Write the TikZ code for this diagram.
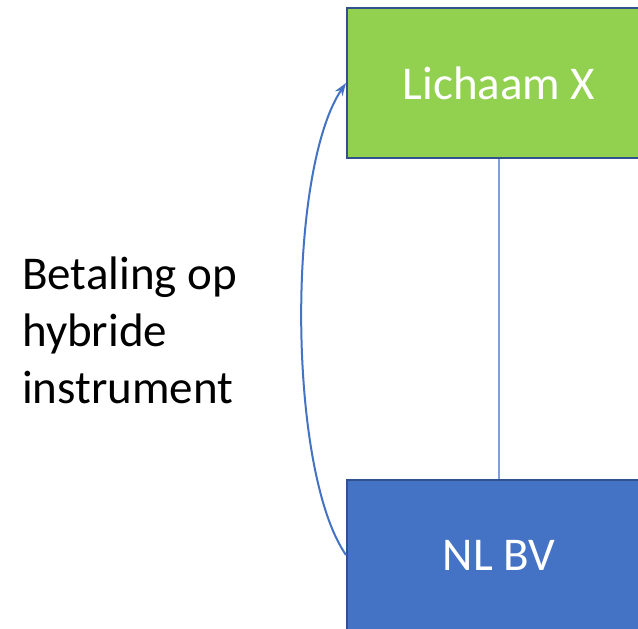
\documentclass[tikz,border=0pt]{standalone}
\usepackage{fontspec}
\setmainfont{Carlito}
\usepackage{tikz}
\usetikzlibrary{arrows.meta, positioning}

\definecolor{boxgreen}{HTML}{92D050}
\definecolor{boxblue}{HTML}{4472C4}
\definecolor{boxedge}{HTML}{2F528F}
\definecolor{linkblue}{HTML}{7F9FD8}

\tikzset{
  entity/.style={draw=boxedge, line width=2pt, minimum width=304pt, minimum height=150pt,
    text=white, font=\fontsize{47}{57}\selectfont, inner sep=0pt},
  link/.style={draw=linkblue, line width=1.3pt},
  payment/.style={draw=boxblue, line width=2pt, -{Stealth[length=13pt, width=9pt]}}
}

\begin{document}
\begin{tikzpicture}[x=1pt, y=1pt]
    \useasboundingbox (0,0) rectangle (638,629);
    \clip (0,0) rectangle (638,629);
    \fill[white] (0,0) rectangle (638,629);

    % de twee lichamen
    \node[entity, fill=boxgreen] (lichaam) at (499,546) {Lichaam X};
    \node[entity, fill=boxblue] (nlbv) at (499,74) {NL BV};

    % verbinding tussen de lichamen
    \draw[link] (lichaam.south) -- (nlbv.north);

    % betaling van NL BV naar Lichaam X
    \draw[payment] (nlbv.west) .. controls (287,159) and (287,459) .. (lichaam.west);
    \node[anchor=north west, align=left, inner sep=0pt, font=\fontsize{47}{57}\selectfont] (betaling) at (22,372)
      {Betaling op\\hybride\\instrument};
\end{tikzpicture}
\end{document}
